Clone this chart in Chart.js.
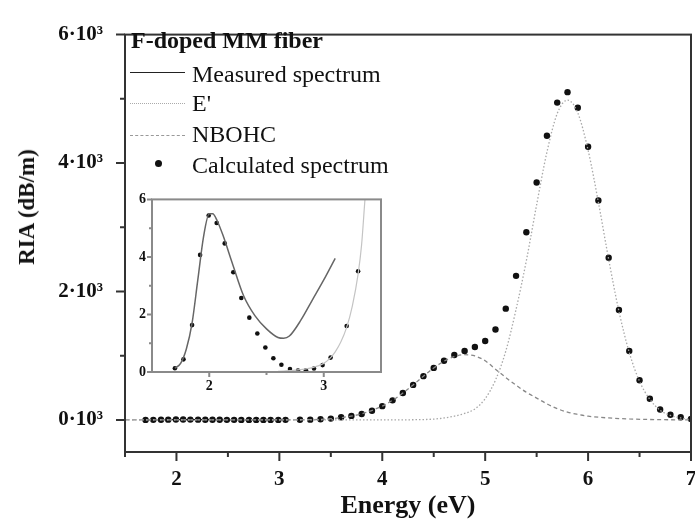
<!DOCTYPE html>
<html>
<head>
<meta charset="utf-8">
<script src="https://cdn.jsdelivr.net/npm/chart.js@4.4.0/dist/chart.umd.min.js"></script>
<style>
  body { margin: 0; background: #fff; }
  #wrap { position: relative; width: 695px; height: 522px; font-family: 'Liberation Serif', serif; color: #111; }
  #main { position: absolute; left: 0; top: 0; }
  #inset { position: absolute; left: 120px; top: 185px; }
  .lg { position: absolute; font-size: 24px; line-height: 30px; white-space: nowrap; }
  .smp { position: absolute; width: 55px; height: 0; }
  #ytitle { position: absolute; left: 27px; top: 207px; font-weight: bold; font-size: 23px; white-space: nowrap;
            transform: translate(-50%, -50%) rotate(-90deg); }
</style>
</head>
<body>
<div id="wrap">
  <canvas id="main" width="695" height="522"></canvas>
  <div id="ytitle">RIA (dB/m)</div>
  <div class="lg" style="left:131px;top:25px;font-weight:bold">F-doped MM fiber</div>
  <div class="smp" style="left:130px;top:72px;border-top:1.5px solid #222"></div>
  <div class="lg" style="left:192px;top:59px">Measured spectrum</div>
  <div class="smp" style="left:130px;top:103px;border-top:1.5px dotted #aaa"></div>
  <div class="lg" style="left:192px;top:88px">E'</div>
  <div class="smp" style="left:130px;top:135px;border-top:1.5px dashed #999"></div>
  <div class="lg" style="left:192px;top:119px">NBOHC</div>
  <div style="position:absolute;left:155px;top:160px;width:7px;height:7px;border-radius:50%;background:#111"></div>
  <div class="lg" style="left:192px;top:150px">Calculated spectrum</div>
  <canvas id="inset" width="270" height="215"></canvas>
</div>
<script>
// calculated spectrum (dots), dB/m
const calcE = [1.70, 1.775, 1.85, 1.92, 1.995, 2.065, 2.135, 2.21, 2.28, 2.35, 2.42, 2.49, 2.56, 2.63, 2.705, 2.775, 2.845, 2.915, 2.99, 3.06,
  3.2, 3.3, 3.4, 3.5, 3.6, 3.7, 3.8, 3.9, 4.0, 4.1, 4.2, 4.3, 4.4, 4.5, 4.6, 4.7, 4.8, 4.9, 5.0, 5.1, 5.2, 5.3, 5.4, 5.5,
  5.6, 5.7, 5.8, 5.9, 6.0, 6.1, 6.2, 6.3, 6.4, 6.5, 6.6, 6.7, 6.8, 6.9, 7.0];
const calcRIA = [0.13, 0.44, 1.63, 4.07, 5.44, 5.18, 4.47, 3.47, 2.57, 1.89, 1.34, 0.85, 0.48, 0.25, 0.10, 0.05, 0.06, 0.12, 0.24, 0.50,
  1.6, 3.5, 10, 20, 40, 62, 92, 142, 214, 304, 418, 545, 681, 810, 922, 1010, 1073, 1134, 1228, 1408, 1732, 2243, 2921, 3696,
  4425, 4941, 5104, 4861, 4253, 3418, 2526, 1712, 1073, 618, 329, 162, 81, 41, 15];

// measured spectrum (solid line), dB/m
const measE = [1.70, 1.75, 1.80, 1.85, 1.90, 1.95, 2.00, 2.03, 2.07, 2.12, 2.20, 2.30, 2.40, 2.50, 2.60, 2.65, 2.70, 2.80, 2.90, 3.00, 3.10];
const measRIA = [0.13, 0.3, 0.8, 1.7, 3.2, 4.7, 5.5, 5.5, 5.25, 4.75, 3.8, 2.65, 1.95, 1.5, 1.2, 1.17, 1.25, 1.8, 2.5, 3.2, 3.95];

// E' band (dotted)
const ePrimeE = [1.5, 4.0, 4.4, 4.6, 4.8, 4.9, 5.0, 5.1, 5.2, 5.3, 5.4, 5.5, 5.6, 5.7, 5.8, 5.9, 6.0, 6.1, 6.2, 6.3, 6.4, 6.5, 6.6, 6.7, 6.8, 6.9, 7.0];
const ePrimeRIA = [0, 0, 5, 30, 100, 170, 330, 620, 1070, 1720, 2480, 3350, 4170, 4770, 4980, 4780, 4200, 3390, 2500, 1690, 1050, 600, 320, 150, 70, 30, 10];

// NBOHC band (dashed)
const nbohcE = [1.5, 3.0, 3.2, 3.4, 3.6, 3.8, 4.0, 4.1, 4.2, 4.3, 4.4, 4.5, 4.6, 4.7, 4.8, 4.9, 5.0, 5.1, 5.2, 5.3, 5.4, 5.5, 5.6, 5.7, 5.8, 5.9, 6.0, 6.2, 6.4, 6.6, 6.8, 7.0];
const nbohcRIA = [0, 0, 2, 8, 35, 95, 215, 305, 418, 545, 680, 808, 915, 985, 1015, 995, 920, 790, 660, 540, 430, 340, 250, 175, 120, 85, 58, 30, 15, 6, 2, 0];

// inset: rising tail at the high-energy side
const tailE = [2.6, 2.7, 2.8, 2.9, 3.0, 3.06, 3.1, 3.15, 3.2, 3.25, 3.3, 3.33, 3.36, 3.39];
const tailRIA = [0.02, 0.05, 0.08, 0.15, 0.3, 0.5, 0.7, 1.05, 1.55, 2.3, 3.4, 4.4, 6.0, 7.5];

// axis ticks
const mainXMajor = [2, 3, 4, 5, 6, 7];
const mainXMinor = [1.5, 2.5, 3.5, 4.5, 5.5, 6.5];
const mainYMajor = [0, 2000, 4000, 6000];
const mainYMinor = [1000, 3000, 5000];
const insetXMajor = [2, 3];
const insetXMinor = [2.5];
const insetYMajor = [0, 2, 4, 6];
const insetYMinor = [1, 3, 5];

const pts = (xs, ys) => xs.map((x, i) => ({ x: x, y: ys[i] }));
const serif = "'Liberation Serif', serif";

// white plot area (inset sits over the main chart)
const whiteArea = {
  id: 'whiteArea',
  beforeDraw(chart) {
    const { ctx, chartArea: a } = chart;
    ctx.save();
    ctx.fillStyle = '#fff';
    ctx.fillRect(a.left, a.top, a.right - a.left, a.bottom - a.top);
    ctx.restore();
  }
};

// box frame + outward major/minor ticks
const frameTicks = {
  id: 'frameTicks',
  afterDraw(chart, args, o) {
    const { ctx, chartArea: a, scales: { x, y } } = chart;
    ctx.save();
    ctx.strokeStyle = o.color;
    ctx.lineWidth = o.width;
    ctx.beginPath();
    o.xMajor.forEach(v => { const p = x.getPixelForValue(v); ctx.moveTo(p, a.bottom); ctx.lineTo(p, a.bottom + o.major); });
    o.xMinor.forEach(v => { const p = x.getPixelForValue(v); ctx.moveTo(p, a.bottom); ctx.lineTo(p, a.bottom + o.minor); });
    o.yMajor.forEach(v => { const p = y.getPixelForValue(v); ctx.moveTo(a.left, p); ctx.lineTo(a.left - o.major, p); });
    o.yMinor.forEach(v => { const p = y.getPixelForValue(v); ctx.moveTo(a.left, p); ctx.lineTo(a.left - o.minor, p); });
    ctx.stroke();
    ctx.strokeRect(a.left, a.top, a.right - a.left, a.bottom - a.top);
    ctx.restore();
  }
};

new Chart(document.getElementById('main'), {
  type: 'line',
  data: {
    datasets: [
      { label: "E'", data: pts(ePrimeE, ePrimeRIA), borderColor: '#a8a8a8', borderWidth: 1.3, borderDash: [1.5, 2],
        pointRadius: 0, cubicInterpolationMode: 'monotone' },
      { label: 'NBOHC', data: pts(nbohcE, nbohcRIA), borderColor: '#888', borderWidth: 1.3, borderDash: [4, 3],
        pointRadius: 0, cubicInterpolationMode: 'monotone' },
      { label: 'Measured spectrum', data: pts(measE, measRIA), borderColor: '#222', borderWidth: 1.2,
        pointRadius: 0, cubicInterpolationMode: 'monotone' },
      { label: 'Calculated spectrum', data: pts(calcE, calcRIA), showLine: false,
        pointRadius: 3.2, pointBackgroundColor: '#111', pointBorderWidth: 0 }
    ]
  },
  options: {
    responsive: false,
    animation: false,
    layout: { padding: { top: 26, right: 4, left: 0, bottom: 0 } },
    plugins: {
      legend: { display: false },
      tooltip: { enabled: false },
      frameTicks: { color: '#333', width: 2, major: 9, minor: 5,
        xMajor: mainXMajor, xMinor: mainXMinor, yMajor: mainYMajor, yMinor: mainYMinor }
    },
    scales: {
      x: {
        type: 'linear', min: 1.5, max: 7,
        grid: { display: false, drawTicks: false }, border: { display: false },
        afterBuildTicks: s => { s.ticks = mainXMajor.map(v => ({ value: v })); },
        afterFit: s => { s.height = 70; s.paddingLeft = 0; s.paddingRight = 0; },
        ticks: { padding: 15, color: '#111', font: { family: serif, size: 21, weight: 'bold' } },
        title: { display: true, text: 'Energy (eV)', color: '#111', padding: { top: 0, bottom: 0 },
          font: { family: serif, size: 26, weight: 'bold' } }
      },
      y: {
        min: -500, max: 6000,
        grid: { display: false, drawTicks: false }, border: { display: false },
        afterBuildTicks: s => { s.ticks = mainYMajor.map(v => ({ value: v })); },
        afterFit: s => { s.width = 125; },
        ticks: { padding: 22, color: '#111', font: { family: serif, size: 21, weight: 'bold' },
          callback: v => (v / 1000) + '·10³' }
      }
    }
  },
  plugins: [frameTicks]
});

new Chart(document.getElementById('inset'), {
  type: 'line',
  data: {
    datasets: [
      { label: "E'", data: pts(tailE, tailRIA), borderColor: '#c4c4c4', borderWidth: 1.2,
        pointRadius: 0, cubicInterpolationMode: 'monotone' },
      { label: 'Measured spectrum', data: pts(measE, measRIA), borderColor: '#666', borderWidth: 1.5,
        pointRadius: 0, cubicInterpolationMode: 'monotone' },
      { label: 'Calculated spectrum', data: pts(calcE, calcRIA), showLine: false,
        pointRadius: 2.3, pointBackgroundColor: '#111', pointBorderWidth: 0 }
    ]
  },
  options: {
    responsive: false,
    animation: false,
    layout: { padding: { top: 14, right: 9, left: 0, bottom: 0 } },
    plugins: {
      legend: { display: false },
      tooltip: { enabled: false },
      frameTicks: { color: '#8a8a8a', width: 2, major: 5, minor: 3,
        xMajor: insetXMajor, xMinor: insetXMinor, yMajor: insetYMajor, yMinor: insetYMinor }
    },
    scales: {
      x: {
        type: 'linear', min: 1.5, max: 3.5,
        grid: { display: false, drawTicks: false }, border: { display: false },
        afterBuildTicks: s => { s.ticks = insetXMajor.map(v => ({ value: v })); },
        afterFit: s => { s.height = 28; s.paddingLeft = 0; s.paddingRight = 0; },
        ticks: { padding: 6, color: '#111', font: { family: serif, size: 14, weight: 'bold' } }
      },
      y: {
        min: 0, max: 6,
        grid: { display: false, drawTicks: false }, border: { display: false },
        afterBuildTicks: s => { s.ticks = insetYMajor.map(v => ({ value: v })); },
        afterFit: s => { s.width = 32; },
        ticks: { padding: 6, color: '#111', font: { family: serif, size: 14, weight: 'bold' } }
      }
    }
  },
  plugins: [whiteArea, frameTicks]
});
</script>
</body>
</html>
